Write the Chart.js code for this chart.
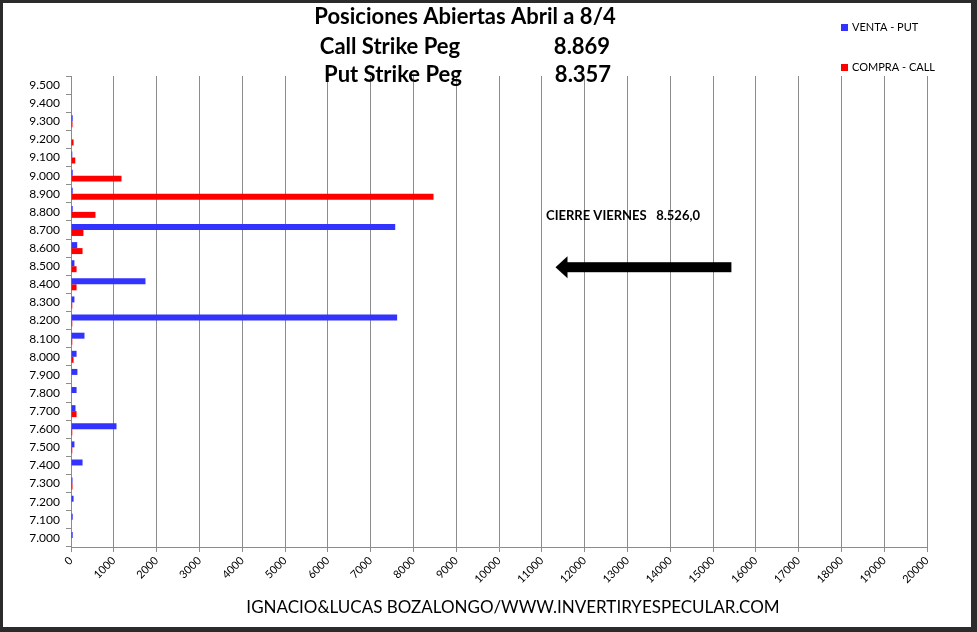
<!DOCTYPE html>
<html>
<head>
<meta charset="utf-8">
<script src="https://cdn.jsdelivr.net/npm/chart.js@4.4.1/dist/chart.umd.min.js"></script>
<style>
  html, body { margin: 0; padding: 0; background: #2b2b2b; }
  #wrap { position: absolute; left: 3px; top: 3px; width: 968px; height: 624px; background: #fff; }
  canvas { display: block; }
</style>
</head>
<body>
<div id="wrap"><canvas id="chart" width="968" height="624"></canvas></div>
<script>
// strikes, top to bottom as drawn
const strikes = ['9.500','9.400','9.300','9.200','9.100','9.000','8.900','8.800','8.700','8.600','8.500','8.400','8.300',
                 '8.200','8.100','8.000','7.900','7.800','7.700','7.600','7.500','7.400','7.300','7.200','7.100','7.000'];
const ventaPut   = [0, 0, 40, 0, 30, 40, 40, 40, 7575, 145, 80, 1740, 80, 7620, 315, 130, 150, 130, 105, 1063, 80, 270, 35, 60, 40, 40];
const compraCall = [0, 0, 35, 60, 100, 1180, 8470, 572, 290, 270, 130, 130, 30, 30, 30, 60, 0, 0, 130, 30, 30, 0, 35, 0, 0, 0];
const xTicksMax = 20000, xStep = 1000;

const titleLines = [['Posiciones Abiertas Abril a 8/4', ''], ['Call Strike Peg', '8.869'], ['Put Strike Peg', '8.357']];
const cierreText = 'CIERRE VIERNES   8.526,0';
const cierreArrow = { from: 15430, to: 11320, strike: '8.500' };
const footer = 'IGNACIO&LUCAS BOZALONGO/WWW.INVERTIRYESPECULAR.COM';

const BLUE = '#3333ff', RED = '#ff0000', GRID = '#8c8c8c';
const FONT = 'Lato, "Open Sans", sans-serif';

const extras = {
  id: 'extras',
  afterDraw(chart) {
    const { ctx, scales: { x, y } } = chart;
    ctx.save();
    ctx.fillStyle = '#000';
    ctx.textBaseline = 'middle';

    // titulo
    ctx.font = 'bold 22px ' + FONT;
    ctx.textAlign = 'center';
    ctx.fillText(titleLines[0][0], 462, 14);
    ctx.fillText(titleLines[1][0], 387, 44);
    ctx.fillText(titleLines[2][0], 390, 72);
    ctx.fillText(titleLines[1][1], 579, 44);
    ctx.fillText(titleLines[2][1], 580, 72);

    // leyenda
    ctx.font = '11px ' + FONT;
    ctx.textAlign = 'left';
    [[BLUE, 'VENTA - PUT', 24], [RED, 'COMPRA - CALL', 64]].forEach(([c, t, yy]) => {
      ctx.fillStyle = c;
      ctx.fillRect(838, yy - 3, 7, 7);
      ctx.fillStyle = '#000';
      ctx.fillText(t, 849, yy + 0.5);
    });

    // cierre + flecha
    ctx.font = 'bold 13px ' + FONT;
    ctx.fillText(cierreText, x.getPixelForValue(11100), 213);
    const ay = y.getPixelForValue(strikes.indexOf(cierreArrow.strike)) + 1;
    const x0 = x.getPixelForValue(cierreArrow.from), x1 = x.getPixelForValue(cierreArrow.to);
    ctx.fillRect(x1 + 10, ay - 5, x0 - x1 - 10, 10);
    ctx.beginPath();
    ctx.moveTo(x1, ay);
    ctx.lineTo(x1 + 12, ay - 11);
    ctx.lineTo(x1 + 12, ay + 11);
    ctx.closePath();
    ctx.fill();

    // pie
    ctx.font = '17px ' + FONT;
    ctx.textAlign = 'center';
    ctx.fillText(footer, 510, 605);
    ctx.restore();
  }
};

new Chart(document.getElementById('chart'), {
  type: 'bar',
  data: {
    labels: strikes,
    datasets: [
      { label: 'VENTA - PUT', data: ventaPut, backgroundColor: BLUE },
      { label: 'COMPRA - CALL', data: compraCall, backgroundColor: RED }
    ]
  },
  options: {
    indexAxis: 'y',
    responsive: false,
    animation: false,
    layout: { padding: { left: 0, top: 73, right: 44, bottom: 0 } },
    datasets: { bar: { barPercentage: 1, categoryPercentage: 0.66 } },
    plugins: { legend: { display: false }, tooltip: { enabled: false } },
    scales: {
      x: {
        min: 0, max: xTicksMax,
        afterFit: (s) => { s.height = 80; },
        border: { color: GRID },
        grid: { color: GRID, tickLength: 5 },
        ticks: { stepSize: xStep, autoSkip: false, maxRotation: 45, minRotation: 45, color: '#000',
                 font: { size: 11, family: FONT }, padding: 2, callback: (v) => String(v) }
      },
      y: {
        afterFit: (s) => { s.width = 68; },
        border: { color: GRID },
        grid: { drawOnChartArea: false, color: GRID, tickLength: 5 },
        ticks: { color: '#000', font: { size: 12, family: FONT }, padding: 6 }
      }
    }
  },
  plugins: [extras]
});
</script>
</body>
</html>
